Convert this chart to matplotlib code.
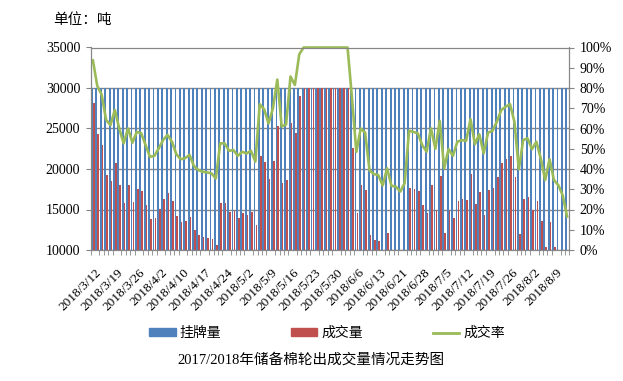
import numpy as np
import matplotlib
matplotlib.use('Agg')
import matplotlib.pyplot as plt
import matplotlib.ticker as ticker
from matplotlib.patches import Patch
from matplotlib.lines import Line2D

# daily deal volume (t), one value per trading day 2018/3/12 .. 2018/8/14
deal = [28100, 24300, 23000, 19300, 18500, 20750, 18000, 15800, 18000, 15900,
        17500, 17300, 15550, 13800, 13950, 15050, 16300, 17050, 16050, 14200,
        13450, 13600, 14100, 12450, 11850, 11600, 11500, 11350, 10600, 15800,
        15800, 14700, 14800, 13950, 14550, 14300, 14700, 13100, 21600, 20850,
        18750, 21000, 25250, 18300, 18600, 25700, 24450, 29000, 30000, 30000,
        30000, 30000, 30000, 30000, 30000, 30000, 30000, 30000, 30000, 22600,
        14550, 18000, 17400, 11800, 11250, 11100, 9550, 12100, 9500, 9400,
        8650, 9900, 17650, 17500, 17280, 15550, 14560, 18020, 15000, 19130,
        12100, 14950, 13950, 16040, 16290, 16170, 19380, 15670, 17150, 14320,
        17400, 17650, 19000, 20730, 21230, 21600, 19000, 11970, 16290, 16540,
        14930, 16040, 13580, 10370, 13450, 10370, 9600, 8100, 4950]
listed = [30000] * len(deal)

date_labels = ['2018/3/12', '2018/3/19', '2018/3/26', '2018/4/2', '2018/4/10',
               '2018/4/17', '2018/4/24', '2018/5/2', '2018/5/9', '2018/5/16',
               '2018/5/23', '2018/5/30', '2018/6/6', '2018/6/13', '2018/6/21',
               '2018/6/28', '2018/7/5', '2018/7/12', '2018/7/19', '2018/7/26',
               '2018/8/2', '2018/8/9']

x = np.arange(len(deal))
rate = np.array(deal) / np.array(listed)

c_blue = '#4F81BD'
c_red = '#C0504D'
c_green = '#9BBB59'
c_grid = '#868686'

fig = plt.figure(figsize=(6.23, 3.81), dpi=100)
ax = fig.add_axes([90.7/623, 1-250/381, (569.3-90.7)/623, (250-47.5)/381])

ax.bar(x - 0.2, listed, width=0.42, color=c_blue)
ax.bar(x + 0.22, deal, width=0.36, color=c_red)
ax.set_xlim(-0.5, len(x) - 0.5)
ax.set_ylim(10000, 35000)
ax.yaxis.set_major_locator(ticker.MultipleLocator(5000))
ax.grid(axis='y', color=c_grid, lw=1)
ax.set_axisbelow(True)

ax.set_xticks(np.arange(0, len(x), 5) + 0.5)
ax.set_xticklabels(date_labels, rotation=45, ha='right', va='top', rotation_mode='anchor')
ax.set_xticks(np.arange(-0.5, len(x), 1), minor=True)
ax.tick_params(axis='x', which='major', length=0, pad=12)
ax.tick_params(axis='x', which='minor', length=3.5, color=c_grid)
ax.tick_params(axis='y', length=3.5, color=c_grid, pad=4)

ax2 = ax.twinx()
ax2.plot(x, rate, color=c_green, lw=1.9, clip_on=False)
ax2.set_ylim(0, 1)
ax2.yaxis.set_major_locator(ticker.MultipleLocator(0.1))
ax2.yaxis.set_major_formatter(ticker.PercentFormatter(1.0, decimals=0))
ax2.tick_params(axis='y', length=3.5, color=c_grid, pad=4)

for a in [ax, ax2]:
    for s in a.spines.values():
        s.set_color(c_grid)
    for lab in a.get_yticklabels():
        lab.set_fontfamily('Liberation Serif')
        lab.set_fontsize(10)
for lab in ax.get_xticklabels():
    lab.set_fontfamily('Liberation Serif')
    lab.set_fontsize(9.5)

handles = [Patch(color=c_blue, label='挂牌量'),
           Patch(color=c_red, label='成交量'),
           Line2D([], [], color=c_green, lw=2, label='成交率')]
fig.legend(handles=handles, loc='center', bbox_to_anchor=(0.525, 1-333/381), ncol=3,
           frameon=False, prop={'family': 'Noto Sans CJK SC', 'size': 10},
           handlelength=1.9, handleheight=0.5, handletextpad=0.3, columnspacing=5)

fig.text(311/623, 1-360/381, '2017/2018年储备棉轮出成交量情况走势图', ha='center', va='center',
         family=['Liberation Serif', 'Noto Sans CJK SC'], size=10.5)
fig.text(53/623, 1-20/381, '单位：吨', va='center', family='Noto Sans CJK SC', size=10.5)

fig.savefig('out.png', dpi=100)
